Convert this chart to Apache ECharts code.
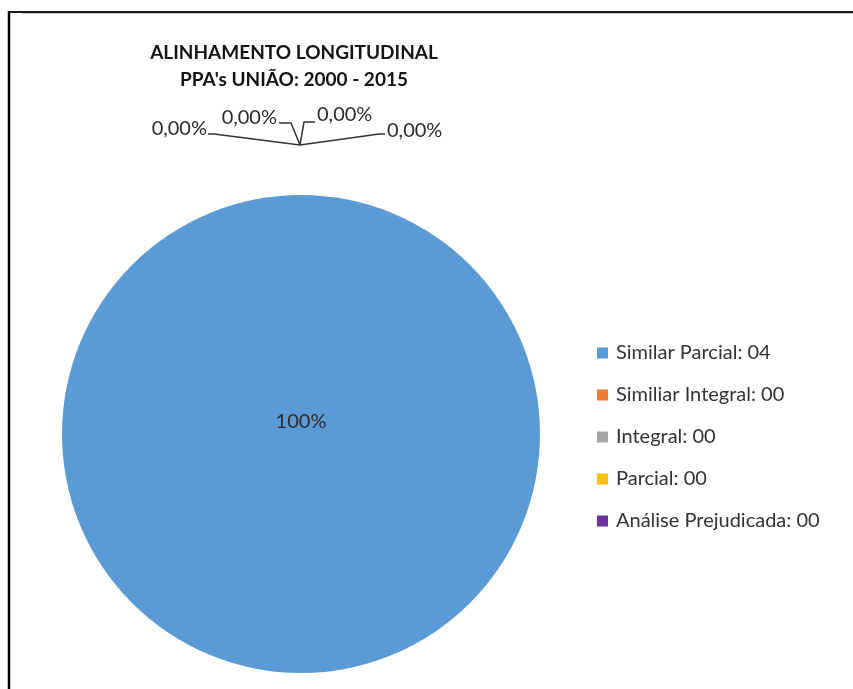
<!DOCTYPE html>
<html>
<head>
<meta charset="utf-8">
<style>
  html, body { margin: 0; padding: 0; background: #fff; }
  #chart { width: 853px; height: 689px; }
</style>
<script src="https://cdn.jsdelivr.net/npm/echarts@6/dist/echarts.min.js"></script>
</head>
<body>
<div id="chart"></div>
<script>
// Categories and counts for the longitudinal alignment of the PPA plans
const categories = ['Similar Parcial', 'Similiar Integral', 'Integral', 'Parcial', 'Análise Prejudicada'];
const counts = [4, 0, 0, 0, 0];
const colors = ['#5B9BD5', '#ED7D31', '#A5A5A5', '#FFC000', '#7030A0'];
const titleLines = ['ALINHAMENTO LONGITUDINAL', "PPA's UNIÃO: 2000 - 2015"];

const FONT = 'Lato, "Open Sans", sans-serif';
const PIE_CX = 301, PIE_CY = 434, PIE_R = 239;

// Placement of the zero-slice labels around a shared hub above the pie:
// label anchor offset, text alignment, and elbow/stub points of the leader line.
const zeroLabelPlacement = [
  { dx: -93, dy: -16, align: 'right', elbow: [-86, -11], stub: [-92, -11] },
  { dx: -23, dy: -27, align: 'right', elbow: [-9, -22],  stub: [-21, -22] },
  { dx: 17,  dy: -30, align: 'left',  elbow: [4, -23],   stub: [15, -23] },
  { dx: 87,  dy: -14, align: 'left',  elbow: [79, -11],  stub: [85, -11] }
];

const chart = echarts.init(document.getElementById('chart'), null, { renderer: 'canvas' });

const pieData = categories.map((name, i) => ({
  name: name,
  value: counts[i],
  itemStyle: { color: colors[i] },
  label: i === 0 ? { position: 'center' } : { position: 'outside' },
  labelLine: { show: i !== 0 }
}));

function pct(p) {
  return p.percent >= 100 ? '100%' : p.percent.toFixed(2).replace('.', ',') + '%';
}

chart.setOption({
  animation: false,
  backgroundColor: '#ffffff',
  title: {
    text: titleLines.join('\n'),
    left: 289,
    top: 34,
    textAlign: 'center',
    textStyle: {
      fontFamily: FONT,
      fontWeight: 'bold',
      fontSize: 19,
      lineHeight: 27,
      color: '#141414'
    }
  },
  legend: {
    orient: 'vertical',
    left: 592,
    top: 338,
    icon: 'rect',
    itemWidth: 11,
    itemHeight: 11,
    itemGap: 22,
    selectedMode: false,
    data: categories,
    formatter: function (name) {
      const v = counts[categories.indexOf(name)];
      return name + ': ' + String(v).padStart(2, '0');
    },
    textStyle: {
      fontFamily: FONT,
      fontSize: 20,
      lineHeight: 20,
      color: '#333333',
      padding: [0, 0, 0, 3]
    }
  },
  series: [{
    type: 'pie',
    center: [PIE_CX, PIE_CY],
    radius: PIE_R,
    startAngle: 90,
    clockwise: true,
    avoidLabelOverlap: false,
    silent: true,
    data: pieData,
    label: {
      show: true,
      formatter: pct,
      fontFamily: FONT,
      fontSize: 20,
      color: '#2b2b2b'
    },
    labelLine: {
      show: true,
      smooth: false,
      lineStyle: { color: '#333333', width: 1.5 }
    },
    labelLayout: function (params) {
      const i = params.dataIndex;
      if (i === 0) {
        return { dy: -12 };
      }
      const pl = zeroLabelPlacement[i - 1];
      const hub = [PIE_CX - 1, PIE_CY - PIE_R - 50];
      return {
        x: hub[0] + pl.dx,
        y: hub[1] + pl.dy,
        align: pl.align,
        verticalAlign: 'middle',
        labelLinePoints: [
          hub,
          [hub[0] + pl.elbow[0], hub[1] + pl.elbow[1]],
          [hub[0] + pl.stub[0], hub[1] + pl.stub[1]]
        ]
      };
    }
  }],
  graphic: [
    {
      type: 'line',
      shape: { x1: 9, y1: 11, x2: 9, y2: 689 },
      style: { stroke: '#000', lineWidth: 2.5 }
    },
    {
      type: 'line',
      shape: { x1: 8, y1: 12, x2: 853, y2: 12 },
      style: { stroke: '#1a1a1a', lineWidth: 2 }
    },
    {
      type: 'line',
      shape: { x1: 22, y1: 13.5, x2: 853, y2: 13.5 },
      style: { stroke: '#c8c8c8', lineWidth: 1 }
    }
  ]
});
</script>
</body>
</html>
